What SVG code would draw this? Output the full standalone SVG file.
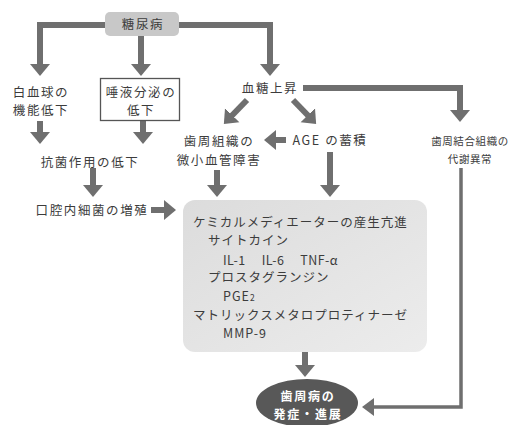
<svg xmlns="http://www.w3.org/2000/svg" width="509" height="425" viewBox="0 0 509 425">
<defs>
<marker id="ah" markerUnits="userSpaceOnUse" markerWidth="14" markerHeight="22" viewBox="0 -11 14 22" refX="1" refY="0" orient="auto">
<path d="M0,-10 L12,0 L0,10 z" fill="#6f6f6f"/>
</marker>
<linearGradient id="boxg" x1="0" y1="0" x2="1" y2="1">
<stop offset="0" stop-color="#dcdcdc"/>
<stop offset="1" stop-color="#ececec"/>
</linearGradient>
<style>
.t{font-family:"Noto Sans CJK JP","Noto Sans",sans-serif;font-size:12.5px;letter-spacing:1.6px;fill:#3c3c3c;text-anchor:middle}
.b{font-family:"Noto Sans CJK JP","Noto Sans",sans-serif;font-size:12.5px;letter-spacing:1px;fill:#3c3c3c}
.w{font-family:"Noto Sans CJK JP","Noto Sans",sans-serif;font-size:12px;letter-spacing:1.8px;fill:#fff;font-weight:bold;text-anchor:middle}
.c{fill:none;stroke:#6f6f6f;stroke-width:6;stroke-linejoin:miter}
.thin{fill:none;stroke:#6f6f6f;stroke-width:3.5}
</style>
</defs>
<g id="connectors">
<path class="c" d="M141,25 H40 V65" marker-end="url(#ah)"/>
<path class="c" d="M141,25 H270 V65" marker-end="url(#ah)"/>
<path class="c" d="M141,36 V65" marker-end="url(#ah)"/>
<path class="c" d="M303,88 H460 V111" marker-end="url(#ah)"/>
<path class="c" d="M247,100 L231.5,116" marker-end="url(#ah)"/>
<path class="c" d="M293,100 L308.5,116" marker-end="url(#ah)"/>
<path class="c" d="M40,121 V133" marker-end="url(#ah)"/>
<path class="c" d="M143,121 V133" marker-end="url(#ah)"/>
<path class="c" d="M93,168 V186" marker-end="url(#ah)"/>
<path class="c" d="M151,210 H165" marker-end="url(#ah)"/>
<path class="c" d="M217,170 V186" marker-end="url(#ah)"/>
<path class="c" d="M286,140 H275" marker-end="url(#ah)"/>
<path class="c" d="M330,152 V186" marker-end="url(#ah)"/>
<path class="c" d="M305,352 V366" marker-end="url(#ah)"/>
<path class="thin" d="M461,168 V407 H374"/>
<path d="M374,398 L362,407 L374,416 z" fill="#6f6f6f"/>
</g>
<g id="diabetes">
<rect x="105" y="12" width="74" height="24" rx="5" fill="#c8c8c8"/>
<text class="t" x="143" y="29">糖尿病</text>
</g>
<g id="wbc">
<text class="t" x="41" y="97">白血球の</text>
<text class="t" x="41" y="115">機能低下</text>
</g>
<g id="saliva">
<rect x="100.5" y="78.5" width="79" height="42" fill="#fff" stroke="#555" stroke-width="1.3"/>
<text class="t" x="141" y="97">唾液分泌の</text>
<text class="t" x="141" y="115">低下</text>
</g>
<g id="bloodsugar">
<text class="t" x="270" y="93">血糖上昇</text>
</g>
<g id="periotissue">
<text class="t" x="219" y="146">歯周組織の</text>
<text class="t" x="219" y="165">微小血管障害</text>
</g>
<g id="age">
<text class="t" x="330" y="145">AGE の蓄積</text>
</g>
<g id="connective">
<text class="t" x="470" y="145" style="font-size:10.5px;letter-spacing:0.6px">歯周結合組織の</text>
<text class="t" x="470" y="163" style="font-size:10.5px;letter-spacing:0.6px">代謝異常</text>
</g>
<g id="antibacterial">
<text class="t" x="90" y="167">抗菌作用の低下</text>
</g>
<g id="bacteria">
<text class="t" x="92" y="215">口腔内細菌の増殖</text>
</g>
<g id="mediator">
<rect x="183" y="200" width="244" height="152" rx="12" fill="url(#boxg)"/>
<text class="b" x="193" y="227">ケミカルメディエーターの産生亢進</text>
<text class="b" x="208" y="245">サイトカイン</text>
<text class="b" x="223" y="265" style="letter-spacing:0.4px">IL-1　 IL-6　 TNF-α</text>
<text class="b" x="208" y="282">プロスタグランジン</text>
<text class="b" x="223" y="301">PGE<tspan font-size="8.5">2</tspan></text>
<text class="b" x="193" y="320">マトリックスメタロプロティナーゼ</text>
<text class="b" x="223" y="338">MMP-9</text>
</g>
<g id="periodontitis">
<ellipse cx="307" cy="403" rx="51" ry="24" fill="#585858"/>
<text class="w" x="308" y="401">歯周病の</text>
<text class="w" x="308" y="419">発症・進展</text>
</g>
</svg>
